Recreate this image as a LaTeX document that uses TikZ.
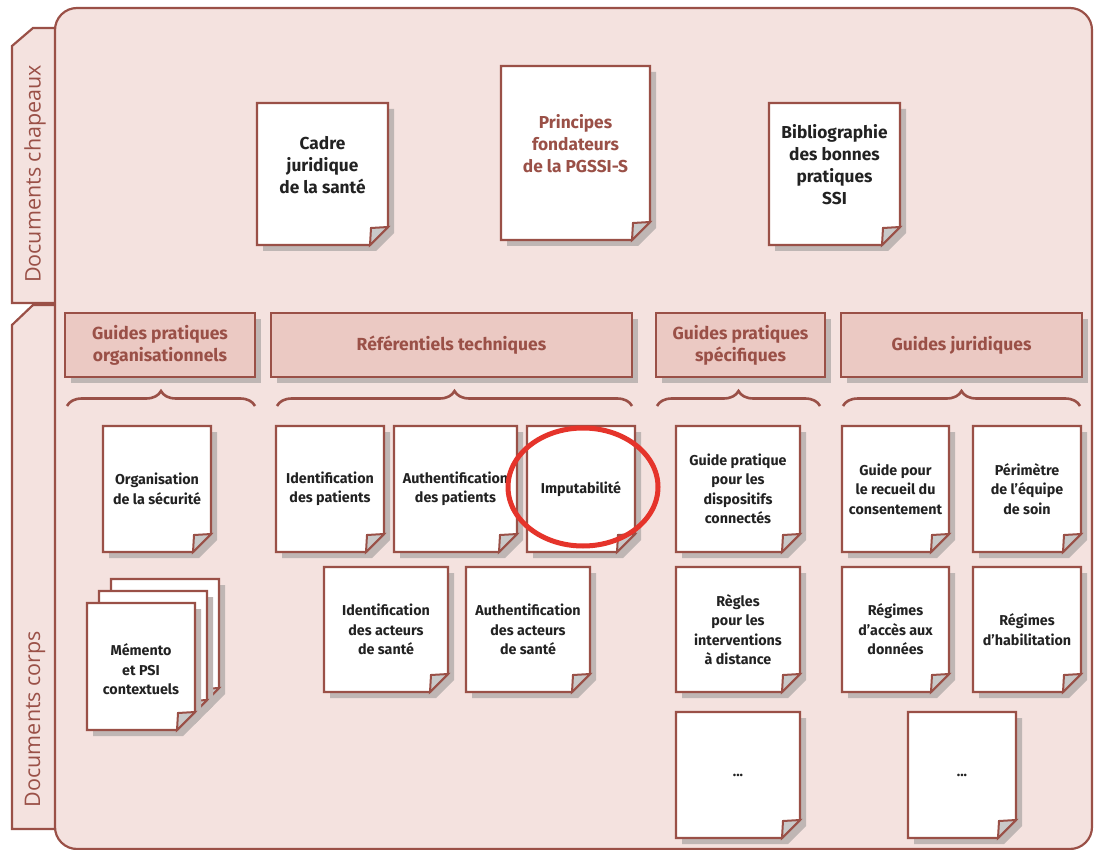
\documentclass[tikz,border=0pt]{standalone}
\usepackage{fontspec}
\setmainfont{Fira Sans}
\newfontfamily\tabfont{Open Sans}
\usetikzlibrary{shadows,decorations.pathreplacing}

\definecolor{bgpink}{HTML}{F4E2DF}
\definecolor{headpink}{HTML}{EBC9C3}
\definecolor{brownline}{HTML}{9A5047}
\definecolor{shadowgrey}{HTML}{BFB6B4}
\definecolor{foldgrey}{HTML}{C9C9C9}
\definecolor{markred}{HTML}{E5342B}
\definecolor{doctext}{HTML}{222222}

\tikzset{
  frame/.style={draw=brownline, line width=2.2pt, fill=bgpink},
  sidetab/.style={draw=brownline, line width=2.2pt, fill=bgpink},
  tablabel/.style={text=brownline, rotate=90, font=\tabfont\fontsize{21.5}{25}\selectfont},
  headbox/.style={draw=brownline, line width=2.6pt, fill=headpink, text=brownline,
    align=center, font=\bfseries\fontsize{17.5}{22}\selectfont, inner sep=0pt,
    drop shadow={shadow xshift=6pt, shadow yshift=-6pt, fill=shadowgrey, opacity=1}},
  headbrace/.style={draw=brownline, line width=2.6pt,
    decorate, decoration={brace, amplitude=15pt}},
  page/.style={draw=brownline, line width=2.4pt, fill=white, line join=miter},
  pageshadow/.style={fill=shadowgrey},
  pagefold/.style={draw=brownline, line width=2pt, fill=foldgrey},
  bigdoc/.style={text=doctext, align=center, font=\bfseries\fontsize{17.3}{22}\selectfont, yshift=9pt},
  smalldoc/.style={text=doctext, align=center, font=\bfseries\fontsize{14.3}{19.5}\selectfont},
  redring/.style={draw=markred, line width=5pt}
}

% name, x1, y1, x2, y2, text style, text
\newcommand{\docpage}[7]{%
  \fill[pageshadow] (#2+6,#3+6) -- (#4+6,#3+6) -- (#4+6,#5-12) -- (#4-12,#5+6) -- (#2+6,#5+6) -- cycle;
  \draw[page] (#2,#3) -- (#4,#3) -- (#4,#5-18) -- (#4-18,#5) -- (#2,#5) -- cycle;
  \draw[pagefold] (#4-18,#5) -- (#4-17,#5-17) -- (#4,#5-18) -- cycle;
  \node[#6] (#1) at ({(#2+#4)/2},{(#3+#5)/2}) {#7};
}

\begin{document}
\begin{tikzpicture}[x=1pt,y=-1pt]
  \useasboundingbox (0,0) rectangle (1098,850);

  % side tabs and frame
  \draw[sidetab] (55,28) -- (33,28) -- (12,46) -- (12,303) -- (55,303);
  \draw[sidetab] (55,305) -- (33,305) -- (12,325) -- (12,829) -- (55,829);
  \node[tablabel] (chapeaux) at (35,174) {Documents chapeaux};
  \node[tablabel] (corps) at (35,719) {Documents corps};
  \draw[frame, rounded corners=22pt] (55,8) rectangle (1092,849);

  % documents chapeaux
  \docpage{cadre}{257}{103}{388}{245}{bigdoc}{Cadre\\juridique\\de la santé}
  \docpage{principes}{501}{66}{650}{240}{bigdoc, text=brownline}{Principes\\fondateurs\\de la PGSSI-S}
  \docpage{biblio}{769}{103}{900}{245}{bigdoc}{Bibliographie\\des bonnes\\pratiques\\SSI}

  % rubriques
  \node[headbox, minimum width=190pt, minimum height=64pt] (orga) at (160,345) {Guides pratiques\\organisationnels};
  \node[headbox, minimum width=361pt, minimum height=64pt] (techn) at (451.5,345) {Référentiels techniques};
  \node[headbox, minimum width=169pt, minimum height=64pt] (specif) at (740.5,345) {Guides pratiques\\spécifiques};
  \node[headbox, minimum width=241pt, minimum height=64pt] (jurid) at (961.5,345) {Guides juridiques};

  \draw[headbrace] (67,406) -- (255,406);
  \draw[headbrace] (277,406) -- (632,406);
  \draw[headbrace] (657,406) -- (820,406);
  \draw[headbrace] (843,406) -- (1080,406);

  % guides organisationnels
  \docpage{secu}{103}{426}{211}{552}{smalldoc}{Organisation\\de la sécurité}
  \docpage{memo3}{111}{579}{219}{706}{smalldoc}{}
  \docpage{memo2}{99}{591}{207}{718}{smalldoc}{}
  \docpage{memo}{87}{603}{195}{730}{smalldoc, yshift=-3pt}{Mémento\\et PSI\\contextuels}

  % referentiels techniques
  \docpage{idpat}{276}{426}{384}{552}{smalldoc}{Identification\\des patients}
  \docpage{authpat}{394}{426}{517}{552}{smalldoc}{Authentification\\des patients}
  \docpage{imput}{527}{426}{635}{552}{smalldoc}{Imputabilité}
  \docpage{idact}{324}{567}{448}{692}{smalldoc}{Identification\\des acteurs\\de santé}
  \docpage{authact}{466}{567}{590}{692}{smalldoc}{Authentification\\des acteurs\\de santé}

  % guides specifiques
  \docpage{dispo}{676}{426}{800}{552}{smalldoc}{Guide pratique\\pour les\\dispositifs\\connectés}
  \docpage{distance}{676}{567}{800}{692}{smalldoc}{Règles\\pour les\\interventions\\à distance}
  \docpage{specmore}{676}{712}{800}{838}{smalldoc}{...}

  % guides juridiques
  \docpage{consent}{842}{426}{949}{552}{smalldoc}{Guide pour\\le recueil du\\consentement}
  \docpage{equipe}{973}{426}{1081}{552}{smalldoc}{Périmètre\\de l’équipe\\de soin}
  \docpage{acces}{842}{567}{949}{692}{smalldoc}{Régimes\\d’accès aux\\données}
  \docpage{habil}{973}{567}{1081}{692}{smalldoc}{Régimes\\d’habilitation}
  \docpage{juridmore}{908}{712}{1016}{838}{smalldoc}{...}

  \draw[redring] ([xshift=2pt,yshift=2pt]imput.center) ellipse [x radius=75, y radius=59];
\end{tikzpicture}
\end{document}
